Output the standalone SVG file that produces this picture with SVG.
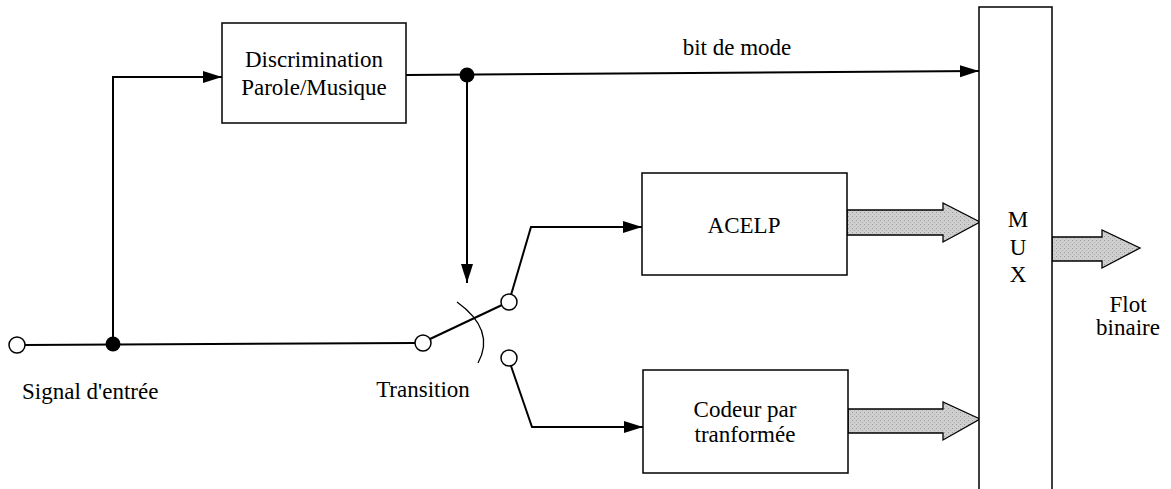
<svg xmlns="http://www.w3.org/2000/svg" width="1171" height="489" viewBox="0 0 1171 489">
<defs>
<marker id="ah" markerUnits="userSpaceOnUse" markerWidth="20" markerHeight="14" refX="19" refY="6" orient="auto">
<path d="M0,0 L19,6 L0,12 Z" fill="#000"/>
</marker>
<pattern id="stip" width="4" height="4" patternUnits="userSpaceOnUse">
<rect width="4" height="4" fill="#cfcfcf"/>
<rect x="0" y="0" width="1" height="1" fill="#9a9a9a"/>
<rect x="2" y="2" width="1" height="1" fill="#b0b0b0"/>
</pattern>
</defs>
<style>
text{font-family:'Liberation Serif','DejaVu Serif',serif;font-size:23px;fill:#000}
.box{fill:#fff;stroke:#000;stroke-width:1.5}
.wire{fill:none;stroke:#000;stroke-width:2}
.fat{fill:url(#stip);stroke:#000;stroke-width:1.3}
.open{fill:#fff;stroke:#000;stroke-width:1.5}
</style>
<rect width="1171" height="489" fill="#fff"/>
<g id="connectors">
<path class="wire" d="M113,344 L113,77 L222,77" marker-end="url(#ah)"/>
<path class="wire" d="M406,75 L979,71" marker-end="url(#ah)"/>
<path class="wire" d="M467,75 L467,283" marker-end="url(#ah)"/>
<path class="wire" d="M25,345 L415,343"/>
<path class="wire" d="M430,339 L502,305"/>
<path class="wire" d="M511,295 L531,227 L642,227" marker-end="url(#ah)"/>
<path class="wire" d="M511,366 L532,427 L643,427" marker-end="url(#ah)"/>
<path d="M457,302 Q496,330 478,363" fill="none" stroke="#000" stroke-width="1.3"/>
<path class="fat" d="M847,210 L943,210 L943,203 L980,222 L943,242 L943,235 L847,235 Z"/>
<path class="fat" d="M848,409 L943,409 L943,402 L980,419 L943,440 L943,433 L848,433 Z"/>
<path class="fat" d="M1052,237 L1102,237 L1102,230 L1140,248 L1102,268 L1102,261 L1052,261 Z"/>
</g>
<g id="input">
<circle class="open" cx="17" cy="345" r="8"/>
<text x="22" y="399">Signal d'entrée</text>
</g>
<g id="junction1"><circle cx="113" cy="344" r="7.5" fill="#000"/></g>
<g id="junction2"><circle cx="467" cy="75" r="7.5" fill="#000"/></g>
<g id="discrimination">
<rect class="box" x="222" y="23" width="184" height="100"/>
<text x="314" y="67" text-anchor="middle">Discrimination</text>
<text x="314" y="95" text-anchor="middle">Parole/Musique</text>
</g>
<g id="modebit"><text x="737" y="55" text-anchor="middle">bit de mode</text></g>
<g id="switch">
<circle class="open" cx="423" cy="343" r="8"/>
<circle class="open" cx="509" cy="302" r="8"/>
<circle class="open" cx="509" cy="358" r="8"/>
<text x="423" y="397" text-anchor="middle">Transition</text>
</g>
<g id="acelp">
<rect class="box" x="642" y="173" width="205" height="102"/>
<text x="744" y="233" text-anchor="middle">ACELP</text>
</g>
<g id="codeur">
<rect class="box" x="643" y="370" width="205" height="103"/>
<text x="745" y="417" text-anchor="middle">Codeur par</text>
<text x="745" y="442" text-anchor="middle">tranformée</text>
</g>
<g id="mux">
<rect class="box" x="979" y="7" width="73" height="490"/>
<text x="1018" y="227" text-anchor="middle">M</text>
<text x="1018" y="255" text-anchor="middle">U</text>
<text x="1018" y="282" text-anchor="middle">X</text>
</g>
<g id="output">
<text x="1128" y="312" text-anchor="middle">Flot</text>
<text x="1128" y="335" text-anchor="middle">binaire</text>
</g>
</svg>
